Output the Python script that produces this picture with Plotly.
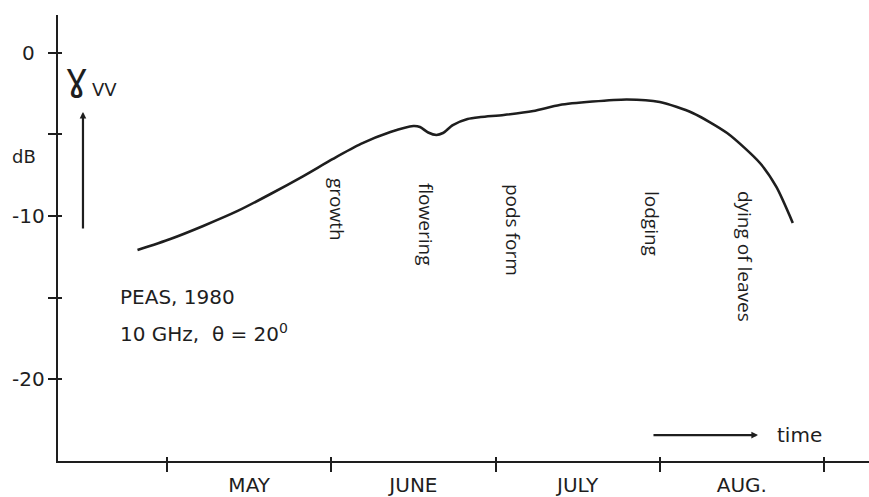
import plotly.graph_objects as go

# Time axis in months: 5.0 = 1 May, 6.0 = 1 June, ... 9.0 = 1 September
months = [5.5, 6.5, 7.5, 8.5]
month_labels = ["MAY", "JUNE", "JULY", "AUG."]
month_bounds = [5, 6, 7, 8, 9]

# Backscatter coefficient gamma_VV (dB) over the 1980 pea season
t = [4.82, 5.02, 5.22, 5.43, 5.63, 5.83, 6.01, 6.18, 6.36,
     6.50, 6.54, 6.59, 6.64, 6.68, 6.74, 6.83, 6.91, 7.05, 7.23,
     7.39, 7.59, 7.80, 8.00, 8.20, 8.41, 8.61, 8.71, 8.81]
gamma_vv = [-12.09, -11.41, -10.61, -9.69, -8.65, -7.55, -6.50, -5.58, -4.85,
            -4.48, -4.54, -4.88, -5.03, -4.91, -4.42, -4.05, -3.93, -3.80, -3.56,
            -3.19, -2.98, -2.85, -3.01, -3.68, -4.91, -6.75, -8.22, -10.43]

# Growth stages written along the curve
stage_labels = ["growth", "flowering", "pods form", "lodging", "dying of leaves"]
stage_x = [6.035, 6.577, 7.107, 7.953, 8.519]
stage_y = [-9.57, -10.49, -10.86, -10.43, -12.45]

# dB axis
db_ticks = [0, -5, -10, -15, -20]
db_labels = ["0", "", "-10", "", "-20"]

INK = "#1e1e1e"
SANS = "DejaVu Sans, sans-serif"
HUMANIST = "Open Sans, Noto Sans, sans-serif"

fig = go.Figure()
fig.add_trace(go.Scatter(
    x=t, y=gamma_vv, mode="lines",
    line=dict(color=INK, width=2.6, shape="spline", smoothing=0.7),
    hoverinfo="skip", showlegend=False,
))
# empty trace on the overlay axes so their inner tick stubs are drawn
fig.add_trace(go.Scatter(
    x=[None], y=[None], xaxis="x2", yaxis="y2", mode="lines",
    hoverinfo="skip", showlegend=False,
))

annotations = []
for lab, xx, yy in zip(stage_labels, stage_x, stage_y):
    annotations.append(dict(
        x=xx, y=yy, xref="x", yref="y", text=lab, textangle=90,
        showarrow=False, font=dict(family=HUMANIST, size=19, color=INK),
        xanchor="center", yanchor="middle",
    ))

# dB tick labels, centred left of the axis
for v, lab in zip(db_ticks, db_labels):
    if lab:
        annotations.append(dict(
            x=0, y=v, xref="paper", yref="y", xshift=-30, text=lab,
            showarrow=False, font=dict(family=SANS, size=20, color=INK),
            xanchor="center", yanchor="middle",
        ))

annotations += [
    dict(x=0, y=-6.38, xref="paper", yref="y", xshift=-34, text="dB",
         showarrow=False, font=dict(family=SANS, size=18, color=INK),
         xanchor="center", yanchor="middle"),
    dict(x=0.0234, y=-1.45, xref="paper", yref="y", text="ɣ",
         showarrow=False, font=dict(family=SANS, size=39, color=INK),
         xanchor="center", yanchor="middle"),
    dict(x=0.0395, y=-2.25, xref="paper", yref="y", text="VV", xanchor="left",
         showarrow=False, font=dict(family=SANS, size=18, color=INK),
         yanchor="middle"),
    # upward arrow beside gamma_VV
    dict(x=0.0308, y=-3.62, xref="paper", yref="y", ax=0, ay=118,
         showarrow=True, arrowhead=2, arrowsize=0.6, arrowwidth=2.2,
         arrowcolor=INK, text=""),
    # time arrow
    dict(x=8.598, y=-23.44, xref="x", yref="y", ax=-106, ay=0,
         showarrow=True, arrowhead=2, arrowsize=0.6, arrowwidth=2.2,
         arrowcolor=INK, text=""),
    dict(x=8.702, y=-23.44, xref="x", yref="y", text="time",
         showarrow=False, font=dict(family=SANS, size=20, color=INK),
         xanchor="left", yanchor="middle"),
    dict(x=4.702, y=-14.97, xref="x", yref="y", text="PEAS, 1980",
         showarrow=False, font=dict(family=SANS, size=20, color=INK),
         xanchor="left", yanchor="middle"),
    dict(x=4.702, y=-17.18, xref="x", yref="y",
         text="10 GHz,  θ = 20<sup>0</sup>",
         showarrow=False, font=dict(family=SANS, size=20, color=INK),
         xanchor="left", yanchor="middle"),
]

X_RANGE = [4.336, 9.274]
Y_RANGE = [-25.03, 2.33]

fig.update_layout(
    width=869, height=497,
    margin=dict(l=58, r=0, t=15, b=36),
    paper_bgcolor="white", plot_bgcolor="white",
    annotations=annotations,
    xaxis=dict(
        range=X_RANGE, showgrid=False, zeroline=False,
        showline=True, linecolor=INK, linewidth=2,
        tickmode="array", tickvals=months, ticktext=month_labels,
        ticks="", ticklabelstandoff=5,
        tickfont=dict(family=SANS, size=20, color=INK),
        minor=dict(tickmode="array", tickvals=month_bounds, ticks="outside",
                   ticklen=9, tickwidth=2, tickcolor=INK, showgrid=False),
    ),
    yaxis=dict(
        range=Y_RANGE, showgrid=False, zeroline=False,
        showline=True, linecolor=INK, linewidth=2,
        tickmode="array", tickvals=db_ticks, ticktext=["" for _ in db_ticks],
        ticks="outside", ticklen=8, tickwidth=2, tickcolor=INK,
    ),
    # inner stubs so the tick marks cross the axis lines
    xaxis2=dict(
        overlaying="x", anchor="y2", side="bottom", range=X_RANGE,
        showgrid=False, zeroline=False, showline=False,
        tickmode="array", tickvals=month_bounds, showticklabels=False,
        ticks="inside", ticklen=4, tickwidth=2, tickcolor=INK,
    ),
    yaxis2=dict(
        overlaying="y", anchor="x2", side="left", range=Y_RANGE,
        showgrid=False, zeroline=False, showline=False,
        tickmode="array", tickvals=db_ticks, showticklabels=False,
        ticks="inside", ticklen=4, tickwidth=2, tickcolor=INK,
    ),
)

fig.write_html("out.html")
